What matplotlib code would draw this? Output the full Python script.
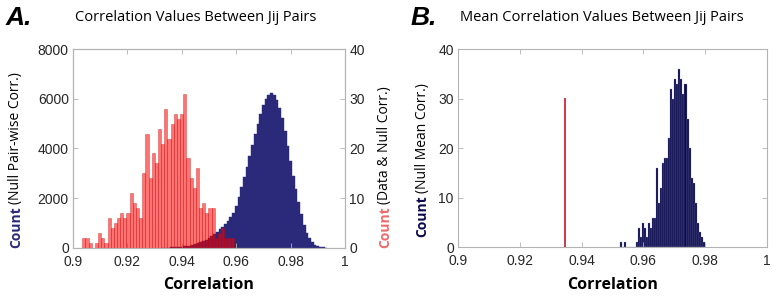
import matplotlib
matplotlib.use("Agg")
import matplotlib.pyplot as plt
import numpy as np

# --- datos panel A ---
# null pair-wise corr (eje izquierdo), bins de 0.001 desde 0.9325
blue_a_start = 0.9325
blue_a_width = 0.001
blue_a_counts = [2, 4, 6, 10, 14, 20, 28, 38, 50, 65, 85, 110, 140, 175, 220, 270,
                 330, 400, 470, 550, 640, 740, 850, 960, 1080, 1230, 1400, 1700,
                 2050, 2450, 2850, 3250, 3700, 4150, 4600, 5000, 5400, 5750, 5980,
                 6150, 6220, 6150, 5950, 5650, 5250, 4700, 4100, 3500, 2900, 2350,
                 1850, 1350, 900, 600, 380, 220, 120, 60, 30, 15, 5]

# data corr (eje derecho)
red_a_start = 0.9034
red_a_width = 0.00116
red_a_counts = [2, 2, 1, 0, 1, 3, 2, 1, 6, 4, 5, 6, 7, 6, 7, 11, 9, 8, 6, 15,
                23, 14, 19, 17, 24, 21, 28, 22, 25, 27, 26, 27, 31, 18, 14, 12,
                16, 8, 9, 7, 8, 8, 2, 3, 4, 2, 2, 2]

# --- datos panel B ---
blue_b_start = 0.9525
blue_b_width = 0.00065
blue_b_counts = [1, 0, 1, 0, 0, 0, 0, 0, 1, 4, 2, 5, 4, 2, 5, 4, 6, 6, 16, 9,
                 12, 17, 18, 18, 22, 32, 30, 34, 33, 36, 34, 31, 33, 26, 20, 14,
                 13, 9, 5, 3, 2, 1]
data_mean_corr = 0.9345
data_line_height = 30

xticks = [0.9, 0.92, 0.94, 0.96, 0.98, 1.0]
xtick_labels = ["0.9", "0.92", "0.94", "0.96", "0.98", "1"]
left_yticks = [0, 2000, 4000, 6000, 8000]
right_yticks = [0, 10, 20, 30, 40]

navy = (0.17, 0.16, 0.48)
navy_dark = (0.04, 0.04, 0.30)
salmon = (0.93, 0.42, 0.42)
spine_gray = (0.70, 0.70, 0.70)
tick_font = "Liberation Sans"
label_font = "Open Sans"


def style_axis(ax, right_ticks=True):
    for s in ax.spines.values():
        s.set_color(spine_gray)
        s.set_linewidth(0.8)
    ax.tick_params(direction="in", length=3.5, width=0.6, color=spine_gray,
                   labelsize=10, labelcolor=(0.15, 0.15, 0.15),
                   top=True, right=right_ticks, pad=3)
    ax.tick_params(axis="x", pad=5)
    for lab in ax.get_xticklabels() + ax.get_yticklabels():
        lab.set_fontfamily(tick_font)


def stacked_ylabel(fig, x, y0, parts):
    # dibuja textos girados uno encima del otro
    renderer = fig.canvas.get_renderer()
    y = y0
    for txt, kw in parts:
        t = fig.text(x, y, txt, rotation=90, ha="center", va="bottom",
                     fontsize=10, family=label_font, **kw)
        bb = t.get_window_extent(renderer=renderer)
        y += bb.height / fig.bbox.height + 0.008


fig = plt.figure(figsize=(7.76, 2.99), dpi=100)

# ---------------- Panel A ----------------
axA = fig.add_axes([0.0941, 0.1716, 0.3505, 0.6635])
edges = blue_a_start + blue_a_width * np.arange(len(blue_a_counts))
axA.bar(edges, blue_a_counts, width=blue_a_width, align="edge",
        color=navy, edgecolor=navy, linewidth=0.3)
axA.set_xlim(0.9, 1.0)
axA.set_ylim(0, 8000)
axA.set_xticks(xticks)
axA.set_xticklabels(xtick_labels)
axA.set_yticks(left_yticks)
axA.set_xlabel("Correlation", fontsize=11.5, fontweight="bold",
               family=label_font, labelpad=6)

axA2 = axA.twinx()
edges = red_a_start + red_a_width * np.arange(len(red_a_counts))
axA2.bar(edges, red_a_counts, width=red_a_width, align="edge",
         color=(1.0, 0.0, 0.0), alpha=0.55, edgecolor=(0.75, 0.0, 0.0),
         linewidth=0.4)
axA2.set_ylim(0, 40)
axA2.set_yticks(right_yticks)
style_axis(axA, right_ticks=False)
style_axis(axA2)
axA2.tick_params(left=False, top=False)

# ---------------- Panel B ----------------
axB = fig.add_axes([0.5902, 0.1729, 0.3982, 0.6622])
edges = blue_b_start + blue_b_width * np.arange(len(blue_b_counts))
axB.bar(edges, blue_b_counts, width=blue_b_width, align="edge",
        color=navy_dark, edgecolor=(0.55, 0.55, 0.72), linewidth=0.2)
axB.plot([data_mean_corr, data_mean_corr], [0, data_line_height],
         color=(0.80, 0.22, 0.28), linewidth=1.4)
axB.set_xlim(0.9, 1.0)
axB.set_ylim(0, 40)
axB.set_xticks(xticks)
axB.set_xticklabels(xtick_labels)
axB.set_yticks(right_yticks)
axB.set_xlabel("Correlation", fontsize=11.5, fontweight="bold",
               family=label_font, labelpad=6)
style_axis(axB)

# titulos y letras
fig.text(0.2525, 0.94, "Correlation Values Between Jij Pairs", ha="center",
         va="center", fontsize=10.5, family=label_font)
fig.text(0.776, 0.94, "Mean Correlation Values Between Jij Pairs", ha="center",
         va="center", fontsize=10.5, family=label_font)
fig.text(0.007, 0.94, "A.", ha="left", va="center", fontsize=19,
         fontweight="bold", fontstyle="italic", family=tick_font)
fig.text(0.529, 0.94, "B.", ha="left", va="center", fontsize=19,
         fontweight="bold", fontstyle="italic", family=tick_font)

fig.canvas.draw()
stacked_ylabel(fig, 0.0206, 0.170, [
    ("Count", dict(color=navy, fontweight="bold")),
    ("(Null Pair-wise Corr.)", dict(color="black")),
])
stacked_ylabel(fig, 0.496, 0.170, [
    ("Count", dict(color=salmon, fontweight="bold")),
    ("(Data & Null Corr.)", dict(color="black")),
])
stacked_ylabel(fig, 0.544, 0.207, [
    ("Count", dict(color=navy_dark, fontweight="bold")),
    ("(Null Mean Corr.)", dict(color="black")),
])

fig.savefig("out.png", dpi=100)
